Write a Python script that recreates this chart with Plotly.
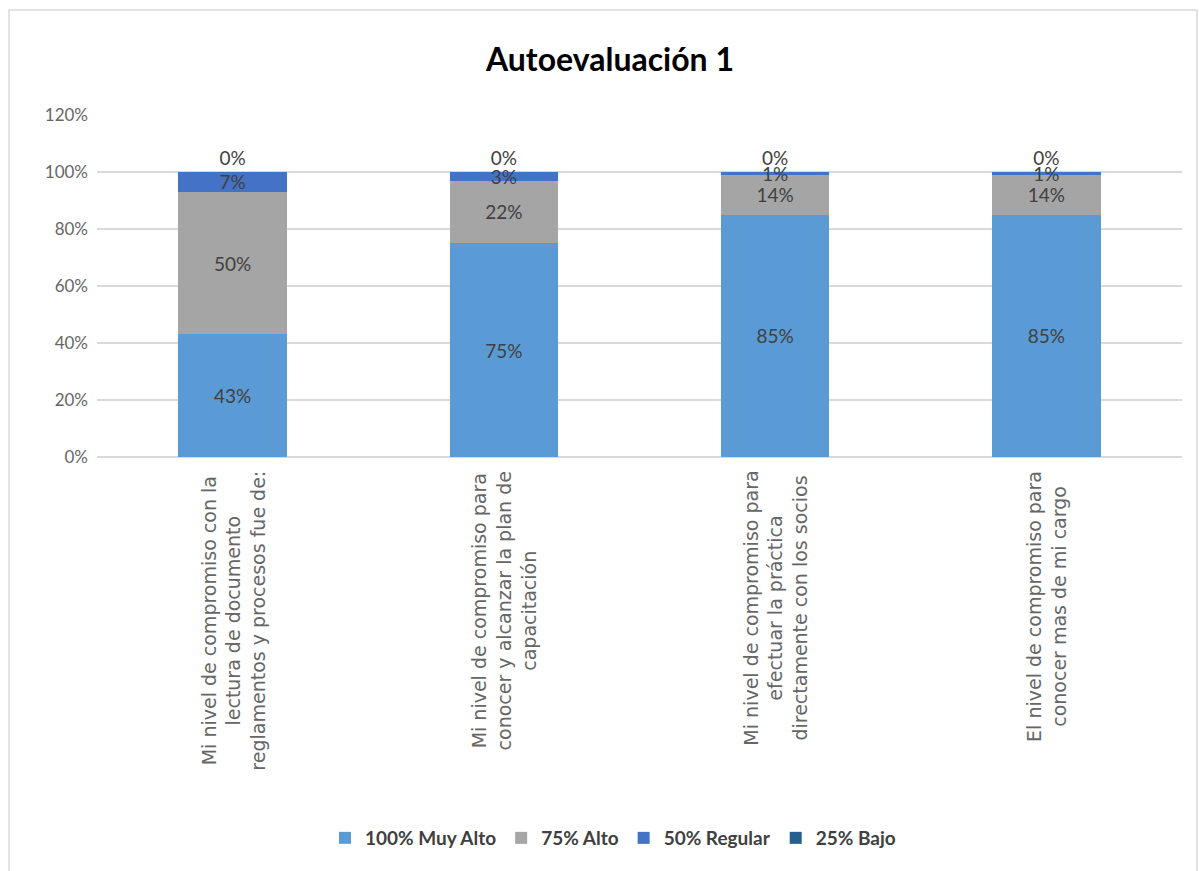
import plotly.graph_objects as go

categories = [
    "Mi nivel de compromiso con la<br>lectura de documento<br>reglamentos y procesos fue de:",
    "Mi nivel de compromiso para<br>conocer y alcanzar la plan de<br>capacitación",
    "Mi nivel de compromiso para<br>efectuar la práctica<br>directamente con los socios",
    "El nivel de compromiso para<br>conocer mas de mi cargo",
]
series_names = ["100% Muy Alto", "75% Alto", "50% Regular", "25% Bajo"]
muy_alto = [0.43, 0.75, 0.85, 0.85]
alto = [0.50, 0.22, 0.14, 0.14]
regular = [0.07, 0.03, 0.01, 0.01]
bajo = [0.0, 0.0, 0.0, 0.0]
y_ticks = [0, 0.2, 0.4, 0.6, 0.8, 1.0, 1.2]

colors = ["#5B9BD5", "#A5A5A5", "#4472C4", "#255E91"]
FONT = "Lato, 'Open Sans', sans-serif"
TXT = "#404040"

W, H = 1199, 871
L, R, T, B = 97, 17, 115, 414
PW, PH = W - L - R, H - T - B

x_idx = list(range(len(categories)))
fig = go.Figure()
for name, vals, col in zip(series_names, [muy_alto, alto, regular, bajo], colors):
    fig.add_trace(go.Bar(
        x=x_idx, y=vals, name=name,
        marker=dict(color=col, line=dict(width=0)),
        text=[f"{v:.0%}" for v in vals],
        textposition="outside" if name == series_names[-1] else "inside",
        insidetextanchor="middle",
        constraintext="none",
        textangle=0,
        textfont=dict(family=FONT, size=19, color=TXT),
        cliponaxis=False,
        width=0.4,
    ))

# category labels, written vertically under each bar
for i, cat in enumerate(categories):
    fig.add_annotation(
        x=i, xref="x", y=-12 / PH, yref="paper",
        text=cat, textangle=-90, showarrow=False,
        xanchor="center", yanchor="top", align="center",
        font=dict(family="DejaVu Sans, sans-serif", size=19, color="#666666"),
    )

# outer chart frame
fig.add_shape(type="rect", xref="paper", yref="paper",
              x0=(9 - L) / PW, x1=(1197 - L) / PW,
              y0=(H - B - 900) / PH, y1=(H - B - 10) / PH,
              line=dict(color="#D9D9D9", width=1.5))

fig.update_layout(
    width=W, height=H,
    margin=dict(l=L, r=R, t=T, b=B, autoexpand=False),
    barmode="stack",
    plot_bgcolor="white", paper_bgcolor="white",
    title=dict(text="<b>Autoevaluación 1</b>", x=610 / W, xref="container",
               xanchor="center", y=1 - 60 / H, yanchor="middle",
               font=dict(family=FONT, size=32, color="#000000")),
    xaxis=dict(range=[-0.5, 3.5], showticklabels=False, showgrid=False,
               zeroline=False, showline=False, ticks=""),
    yaxis=dict(range=[0, 1.2], tickvals=y_ticks, tickformat=".0%",
               showgrid=True, gridcolor="#D9D9D9", gridwidth=1.5,
               zeroline=True, zerolinecolor="#D9D9D9", zerolinewidth=1.5,
               ticks="", ticklen=0, ticklabelstandoff=8,
               tickfont=dict(family=FONT, size=17, color="#666666")),
    legend=dict(orientation="h", x=(613 - L) / PW, xanchor="center",
                y=(H - B - 838) / PH, yanchor="middle",
                font=dict(family=FONT, size=19, color=TXT, weight="bold"),
                itemwidth=30, traceorder="normal"),
    showlegend=True,
)

fig.write_html("out.html")
